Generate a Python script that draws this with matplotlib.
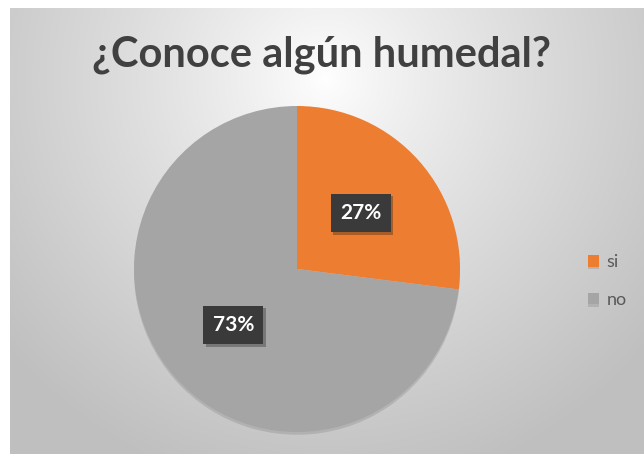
import numpy as np
import matplotlib
matplotlib.use("Agg")
import matplotlib.pyplot as plt
import matplotlib.patheffects as pe

# datos
categorias = ["si", "no"]
valores = [27, 73]
colores = ["#ED7D31", "#A5A5A5"]
titulo = "¿Conoce algún humedal?"

W, H = 644, 454
fig = plt.figure(figsize=(W / 100, H / 100), dpi=100, facecolor="white")

# fondo con degradado radial
bg = fig.add_axes([10 / W, 0, (W - 10) / W, (H - 8) / H])
ny, nx = 446, 634
yy, xx = np.mgrid[0:ny, 0:nx]
cx, cy = 315, 70
d = np.sqrt(((xx - cx) / 420.0) ** 2 + ((yy - cy) / 420.0) ** 2)
d = np.clip(d, 0, 1)
v = 1.0 - 0.25 * d ** 0.85
img = np.dstack([v, v, v])
bg.imshow(img, aspect="auto", extent=[0, 1, 0, 1], origin="upper")
bg.set_axis_off()

# pastel
cx_p, cy_p, r_p = 297, 269, 163
ax = fig.add_axes([(cx_p - r_p) / W, (H - cy_p - r_p) / H, 2 * r_p / W, 2 * r_p / H])
wedges, texts, autotexts = ax.pie(
    valores, colors=colores, startangle=90, counterclock=False,
    autopct="%d%%", pctdistance=0.52, radius=1,
    wedgeprops=dict(linewidth=0),
    textprops=dict(color="white", fontsize=15, fontweight="bold", family="Lato"))
for w in wedges:
    w.set_path_effects([pe.SimplePatchShadow(offset=(0, -2), shadow_rgbFace="#808080", alpha=0.3),
                        pe.Normal()])
for t in autotexts:
    t.set_bbox(dict(boxstyle="square,pad=0.45", facecolor="#3a3a3a", edgecolor="none"))
    t.get_bbox_patch().set_path_effects([pe.SimplePatchShadow(offset=(2, -2), alpha=0.3),
                                         pe.Normal()])
ax.set_xlim(-1, 1)
ax.set_ylim(-1, 1)
ax.set_aspect("equal")
ax.set_axis_off()

# titulo
fig.text(322 / W, 1 - 55 / H, titulo, ha="center", va="center",
         fontsize=30, fontweight="bold", color="#404040", family="Lato")

# leyenda
fig.legend(wedges, categorias, loc="center left", bbox_to_anchor=(572 / W, 1 - 281 / H),
           frameon=False, handlelength=0.6, handleheight=0.6, handletextpad=0.4,
           labelspacing=1.2, prop=dict(family="Lato", size=13), labelcolor="#595959")

fig.savefig("out.png", dpi=100)
